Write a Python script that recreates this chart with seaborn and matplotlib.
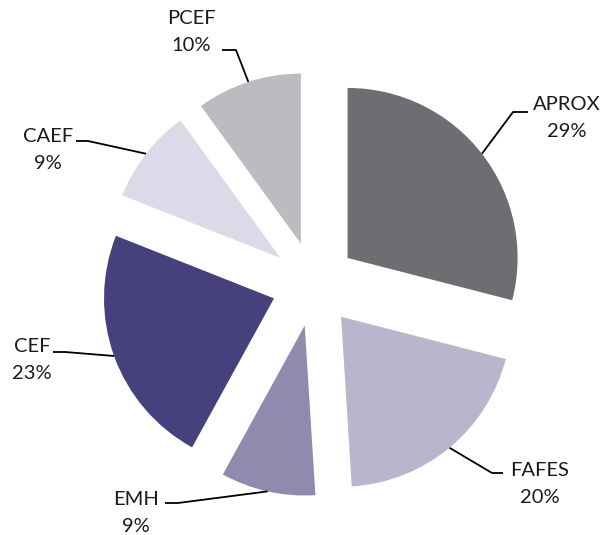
import numpy as np
import matplotlib
matplotlib.use("Agg")
import matplotlib.pyplot as plt
import seaborn as sns

# ---------- data ---------- #
labels = ["APROX", "FAFES", "EMH", "CEF", "CAEF", "PCEF"]
shares = [29, 20, 9, 23, 9, 10]
colors = ["#6d6e71", "#b8b5cd", "#918aae", "#46407c", "#dcdae9", "#bbbcbf"]

# label block centre / leader start / elbow, in pixels of the 604x535 picture
text_px = [(567, 118), (540, 484), (136, 513), (32, 360), (48, 150), (191, 32)]
line_px = [(528, 112), (503, 473), (165, 503), (53, 352), (76, 141), (222, 50)]
elbow_px = [(513, 112), (492, 473), (178, 503), (65, 352), (88, 141), (236, 50)]

sns.set_theme(style="white")
plt.rcParams['font.family'] = ['Lato', 'DejaVu Sans']

W, H = 604, 535
cx, cy, R = 314, 284, 170  # pie centre and radius in px


def to_data(p):
    return (p[0] - cx) / R, (cy - p[1]) / R


fig = plt.figure(figsize=(W / 100, H / 100), dpi=100)
ax = fig.add_axes([0, 0, 1, 1])

wedges, _ = ax.pie(shares, colors=colors, startangle=90, counterclock=False,
                   explode=[0.25] * len(shares), radius=1,
                   wedgeprops=dict(linewidth=0))

ax.set_xlim(-cx / R, (W - cx) / R)
ax.set_ylim(-(H - cy) / R, cy / R)
ax.set_aspect('auto')
ax.axis('off')

for w, lab, pct, tp, lp, ep in zip(wedges, labels, shares, text_px, line_px, elbow_px):
    mid = np.deg2rad((w.theta1 + w.theta2) / 2)
    ax0 = w.center[0] + np.cos(mid) * w.r
    ay0 = w.center[1] + np.sin(mid) * w.r
    x1, y1 = to_data(lp)
    x2, y2 = to_data(ep)
    ax.plot([x1, x2, ax0], [y1, y2, ay0], color="black", lw=1.3,
            solid_capstyle='butt')
    tx, ty = to_data(tp)
    ax.text(tx, ty, f"{lab}\n{pct}%", ha='center', va='center',
            multialignment='center', fontsize=14.5, linespacing=1.75,
            color="#1a1a1a")

plt.savefig("out.png", dpi=100)
